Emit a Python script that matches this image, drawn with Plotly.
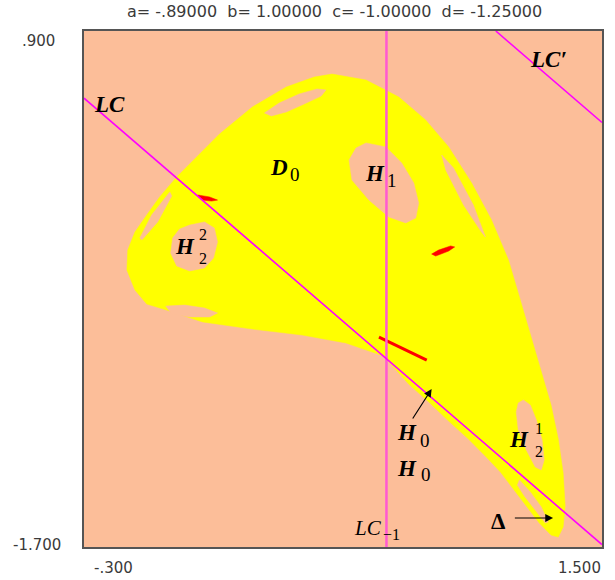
import plotly.graph_objects as go

# ---------------- data (data coordinates) ----------------
x_range = [-0.3, 1.5]
y_range = [-1.7, 0.9]
tick_x = ["-.300", "1.500"]
tick_y = [".900", "-1.700"]
title_text = "a= -.89000  b= 1.00000  c= -1.00000  d= -1.25000"

# outer boundary of the yellow basin D0
basin_x = [0.562, 0.680, 0.794, 0.887, 0.967, 1.047, 1.116, 1.175, 1.216, 1.254, 1.289,
           1.323, 1.348, 1.365, 1.372, 1.365, 1.348, 1.323, 1.282, 1.237, 1.188, 1.147,
           1.098, 1.036, 0.967, 0.898, 0.828, 0.777, 0.742, 0.610, 0.458, 0.285, 0.112,
           -0.013, -0.082, -0.123, -0.151, -0.148, -0.123, -0.082, -0.037, 0.022, 0.091,
           0.171, 0.285, 0.403, 0.500]
basin_y = [0.683, 0.653, 0.567, 0.452, 0.316, 0.134, -0.052, -0.254, -0.455, -0.647, -0.813,
           -0.985, -1.156, -1.327, -1.493, -1.599, -1.650, -1.640, -1.579, -1.493, -1.398, -1.322,
           -1.247, -1.156, -1.065, -0.969, -0.879, -0.793, -0.738, -0.672, -0.632, -0.602, -0.566,
           -0.506, -0.476, -0.405, -0.304, -0.204, -0.113, -0.027, 0.064, 0.164, 0.265,
           0.381, 0.517, 0.618, 0.668]

# holes (basin of infinity, salmon) inside the yellow region
h1_x = [0.680, 0.749, 0.804, 0.846, 0.863, 0.853, 0.818, 0.759, 0.690, 0.631, 0.621, 0.645]
h1_y = [0.336, 0.316, 0.235, 0.134, 0.033, -0.042, -0.067, -0.037, 0.048, 0.149, 0.250, 0.310]

sliver_r_x = [0.943, 0.984, 1.053, 1.095, 1.081, 1.019, 0.957]
sliver_r_y = [0.275, 0.210, 0.023, -0.138, -0.113, 0.023, 0.200]

top_ell_x = [0.327, 0.378, 0.448, 0.510, 0.541, 0.524, 0.465, 0.403, 0.351]
top_ell_y = [0.487, 0.537, 0.583, 0.608, 0.603, 0.572, 0.532, 0.492, 0.472]

sliver_l_x = [-0.002, 0.005, -0.044, -0.099, -0.106, -0.065]
sliver_l_y = [0.089, 0.069, -0.062, -0.153, -0.143, -0.027]

h22_x = [0.067, 0.119, 0.153, 0.164, 0.150, 0.119, 0.067, 0.022, 0.001, 0.008, 0.032]
h22_y = [-0.078, -0.062, -0.093, -0.163, -0.244, -0.294, -0.309, -0.284, -0.219, -0.143, -0.098]

low_ell_x = [-0.016, 0.050, 0.119, 0.164, 0.136, 0.067, 0.005]
low_ell_y = [-0.486, -0.481, -0.496, -0.521, -0.541, -0.541, -0.526]

h21_x = [1.227, 1.251, 1.272, 1.292, 1.299, 1.289, 1.268, 1.237, 1.209, 1.202, 1.209]
h21_y = [-0.959, -0.985, -1.060, -1.161, -1.262, -1.312, -1.297, -1.211, -1.111, -1.020, -0.974]

delta_x = [1.213, 1.251, 1.289, 1.313, 1.303, 1.268, 1.230, 1.206]
delta_y = [-1.362, -1.423, -1.498, -1.574, -1.579, -1.514, -1.443, -1.388]

holes = [(h1_x, h1_y), (sliver_r_x, sliver_r_y), (top_ell_x, top_ell_y),
         (sliver_l_x, sliver_l_y), (h22_x, h22_y), (low_ell_x, low_ell_y),
         (h21_x, h21_y), (delta_x, delta_y)]

# red attractor pieces
red_a_x = [0.095, 0.136, 0.164, 0.143, 0.112]
red_a_y = [0.074, 0.064, 0.048, 0.043, 0.048]
red_b_x = [0.908, 0.932, 0.974, 0.988, 0.967, 0.922]
red_b_y = [-0.224, -0.204, -0.183, -0.188, -0.209, -0.234]
red_c_x = [0.725, 0.891]
red_c_y = [-0.642, -0.758]

# critical lines
lc_x = [-0.3, 1.5]
lc_y = [0.562, -1.688]
lcp_x = [1.131, 1.5]
lcp_y = [0.9, 0.439]
lcm1_x = [0.751, 0.751]
lcm1_y = [-1.7, 0.9]

# ---------------- styles ----------------
SALMON = "#FCBE99"
YELLOW = "#FFFF00"
RED = "#FF0000"
MAGENTA = "#FF00FF"
PINK = "#FF5AD2"

fig = go.Figure()


def poly(xs, ys, color):
    fig.add_trace(go.Scatter(x=xs + xs[:1], y=ys + ys[:1], mode="lines", fill="toself",
                             fillcolor=color, line=dict(width=0.5, color=color),
                             hoverinfo="skip", showlegend=False))


poly(basin_x, basin_y, YELLOW)
for hx, hy in holes:
    poly(hx, hy, SALMON)
poly(red_a_x, red_a_y, RED)
poly(red_b_x, red_b_y, RED)
fig.add_trace(go.Scatter(x=red_c_x, y=red_c_y, mode="lines", line=dict(width=3, color=RED),
                         hoverinfo="skip", showlegend=False))

fig.add_trace(go.Scatter(x=lcm1_x, y=lcm1_y, mode="lines", line=dict(width=2.5, color=PINK),
                         hoverinfo="skip", showlegend=False))
fig.add_trace(go.Scatter(x=lc_x, y=lc_y, mode="lines", line=dict(width=1.6, color=MAGENTA),
                         hoverinfo="skip", showlegend=False))
fig.add_trace(go.Scatter(x=lcp_x, y=lcp_y, mode="lines", line=dict(width=1.6, color=MAGENTA),
                         hoverinfo="skip", showlegend=False))

SERIF = "Liberation Serif"
ann = []


def label(x, y, text, size=23, bold=True, italic=True):
    t = text
    if italic:
        t = "<i>" + t + "</i>"
    if bold:
        t = "<b>" + t + "</b>"
    ann.append(dict(x=x, y=y, xref="x", yref="y", text=t, showarrow=False,
                    font=dict(family=SERIF, size=size, color="black")))


def digit(x, y, text, size=19):
    ann.append(dict(x=x, y=y, xref="x", yref="y", text=text, showarrow=False,
                    font=dict(family=SERIF, size=size, color="black")))


label(-0.213, 0.532, "LC")
label(1.313, 0.754, "LC\u2032")
label(0.378, 0.210, "D")
digit(0.434, 0.179, "0")
label(0.711, 0.184, "H")
digit(0.770, 0.149, "1")
label(0.050, -0.188, "H")
digit(0.112, -0.126, "2", 16)
digit(0.112, -0.246, "2", 16)
label(0.822, -1.121, "H")
digit(0.884, -1.161, "0")
label(0.822, -1.302, "H")
digit(0.887, -1.337, "0")
label(0.687, -1.604, "LC", size=21, bold=False)
digit(0.770, -1.635, "\u22121", 16)
label(1.140, -1.569, "\u0394", italic=False)
label(1.211, -1.156, "H")
digit(1.280, -1.102, "1", 16)
digit(1.280, -1.219, "2", 16)

# arrows
ann.append(dict(x=0.908, y=-0.904, ax=0.839, ay=-1.060, xref="x", yref="y", axref="x", ayref="y",
                text="", showarrow=True, arrowhead=2, arrowsize=1.3, arrowwidth=1.2,
                arrowcolor="black"))
ann.append(dict(x=1.330, y=-1.554, ax=1.192, ay=-1.554, xref="x", yref="y", axref="x", ayref="y",
                text="", showarrow=True, arrowhead=2, arrowsize=1.3, arrowwidth=1.2,
                arrowcolor="black"))

# corner tick labels and title
SANS = "DejaVu Sans"
tfont = dict(family=SANS, size=15, color="#3a3a3a")
ann.append(dict(x=-0.052, y=0.981, xref="paper", yref="paper", text=tick_y[0], showarrow=False,
                xanchor="right", yanchor="middle", font=tfont))
ann.append(dict(x=-0.040, y=0.004, xref="paper", yref="paper", text=tick_y[1], showarrow=False,
                xanchor="right", yanchor="middle", font=tfont))
ann.append(dict(x=0.015, y=-0.041, xref="paper", yref="paper", text=tick_x[0], showarrow=False,
                xanchor="left", yanchor="middle", font=tfont))
ann.append(dict(x=1.002, y=-0.041, xref="paper", yref="paper", text=tick_x[1], showarrow=False,
                xanchor="right", yanchor="middle", font=tfont))
ann.append(dict(x=0.483, y=1.037, xref="paper", yref="paper", text=title_text, showarrow=False,
                xanchor="center", yanchor="middle", font=dict(family=SANS, size=16, color="#3a3a3a")))

fig.update_layout(
    width=615, height=580,
    margin=dict(l=84, r=11, t=31, b=33),
    paper_bgcolor="white",
    plot_bgcolor=SALMON,
    annotations=ann,
    xaxis=dict(range=x_range, showgrid=False, zeroline=False, showticklabels=False, ticks="",
               showline=True, mirror=True, linecolor="#555555", linewidth=2, fixedrange=True),
    yaxis=dict(range=y_range, showgrid=False, zeroline=False, showticklabels=False, ticks="",
               showline=True, mirror=True, linecolor="#555555", linewidth=2, fixedrange=True),
)

fig.write_html("out.html", config={"displayModeBar": False, "staticPlot": True},
               post_script="document.body.style.margin='0';document.body.style.overflow='hidden';")
